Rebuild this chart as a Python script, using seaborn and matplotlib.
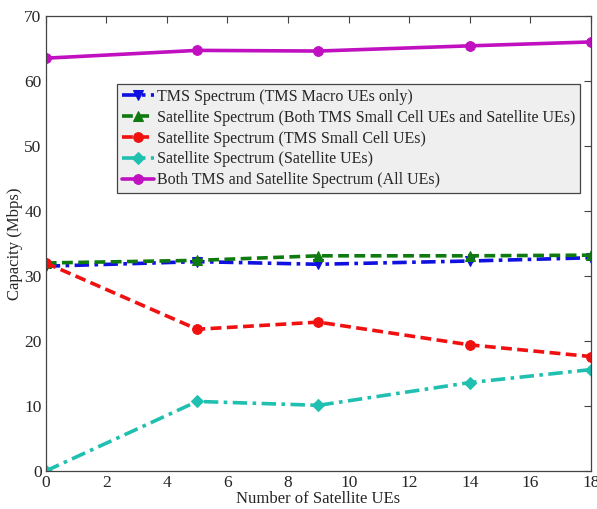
import matplotlib
matplotlib.use("Agg")
import matplotlib.pyplot as plt
import seaborn as sns
import pandas as pd

x_vals = [0, 5, 9, 14, 18]
tms_macro = [31.5, 32.2, 31.8, 32.3, 32.8]
sat_both = [32.0, 32.4, 33.1, 33.1, 33.2]
sat_small = [32.0, 21.8, 22.9, 19.4, 17.6]
sat_sat = [0.0, 10.7, 10.1, 13.6, 15.6]
all_ues = [63.5, 64.7, 64.6, 65.4, 66.0]

labels = [
    "TMS Spectrum (TMS Macro UEs only)",
    "Satellite Spectrum (Both TMS Small Cell UEs and Satellite UEs)",
    "Satellite Spectrum (TMS Small Cell UEs)",
    "Satellite Spectrum (Satellite UEs)",
    "Both TMS and Satellite Spectrum (All UEs)",
]
series = [tms_macro, sat_both, sat_small, sat_sat, all_ues]
colors = ["#1010e0", "#0f7a0f", "#f01010", "#20c0b0", "#c010c0"]
markers = ["v", "^", "o", "D", "o"]
styles = [(0, (4, 1.5, 1, 1.5)), (0, (3, 1.5)), (0, (3, 1.5)), (0, (4, 1.5, 1, 1.5)), "-"]
msizes = [7, 7, 7, 6, 7]

sns.set_style("white")
plt.rcParams["font.family"] = ["Liberation Serif", "DejaVu Serif"]

fig = plt.figure(figsize=(5.97, 5.09), dpi=100)
ax = fig.add_axes([0.0766, 0.0747, 0.9134, 0.894])

for lab, ys, c, m, ls, ms in zip(labels, series, colors, markers, styles, msizes):
    df = pd.DataFrame({"x": x_vals, "y": ys})
    sns.lineplot(data=df, x="x", y="y", ax=ax, color=c, marker=m, markersize=ms,
                 markeredgecolor=c, linewidth=2.6, linestyle=ls, label=lab)

ax.set_xlim(0, 18)
ax.set_ylim(0, 70)
ax.set_xticks(range(0, 19, 2))
ax.set_yticks(range(0, 71, 10))
ax.tick_params(direction="in", top=True, right=True, length=5, labelsize=12.5,
               color="#444444", pad=3)
for s in ax.spines.values():
    s.set_color("#444444")
    s.set_linewidth(0.9)
ax.set_xlabel("Number of Satellite UEs", fontsize=12, labelpad=0)
ax.set_ylabel("Capacity (Mbps)", fontsize=12, labelpad=0.5)

leg = ax.legend(loc="upper left", bbox_to_anchor=(0.131, 0.85), fontsize=11.5,
                frameon=True, fancybox=False, facecolor="#efefef", edgecolor="#444444",
                handlelength=2.0, handletextpad=0.2, borderpad=0.3, labelspacing=0.3,
                borderaxespad=0)
leg.get_frame().set_linewidth(0.9)
leg.get_frame().set_alpha(1)

fig.savefig("out.png", dpi=100)
